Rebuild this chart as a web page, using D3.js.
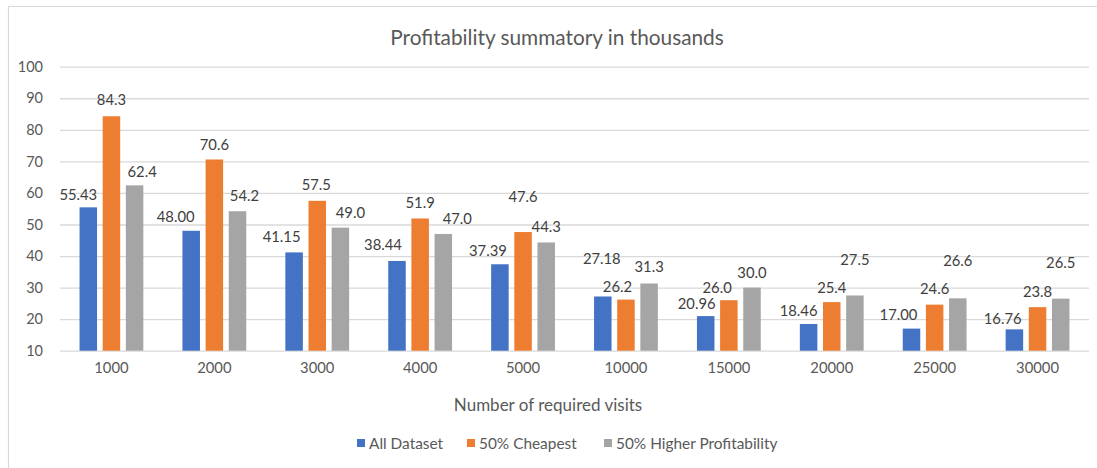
<!DOCTYPE html>
<html>
<head>
<meta charset="utf-8">
<script src="https://cdn.jsdelivr.net/npm/d3@7"></script>
<style>
  html, body { margin: 0; padding: 0; background: #fff; }
  svg { display: block; font-family: Lato, "Open Sans", sans-serif; }
</style>
</head>
<body>
<svg id="chart" width="1097" height="468"></svg>
<script>
// ---- data ----
const categories = ["1000", "2000", "3000", "4000", "5000", "10000", "15000", "20000", "25000", "30000"];
const seriesNames = ["All Dataset", "50% Cheapest", "50% Higher Profitability"];
const allDataset = [55.43, 48.00, 41.15, 38.44, 37.39, 27.18, 20.96, 18.46, 17.00, 16.76];
const cheapest = [84.3, 70.6, 57.5, 51.9, 47.6, 26.2, 26.0, 25.4, 24.6, 23.8];
const higherProfit = [62.4, 54.2, 49.0, 47.0, 44.3, 31.3, 30.0, 27.5, 26.6, 26.5];
const labelDecimals = [2, 1, 1];
const yTicks = [10, 20, 30, 40, 50, 60, 70, 80, 90, 100];

// label placement (pixel offsets of each data label relative to its bar top centre)
const labelDx = [
  [-10, -15.5, -12.5, -14, -12, -1, -9, -10, -13, -11.7],
  [0, 0, -1, 0, 0, -8.5, -11.7, 0, 0, 0],
  [7.5, 7, 10, 14, 0, 0, 0, 0, 0, 0]
];
const labelRise = [
  [13.7, 15, 16.6, 16.7, 14.7, 38, 13.4, 14, 14.3, 11],
  [17, 15.4, 16.7, 16.6, 36.3, 14, 13.3, 15.6, 16.4, 16.3],
  [14, 16.7, 16, 16, 16, 17, 16, 36.3, 38, 36.6]
];

const colors = ["#4472C4", "#ED7D31", "#A5A5A5"];
const textColor = "#595959";
const gridColor = "#D9D9D9";

const seriesValues = [allDataset, cheapest, higherProfit];

const svg = d3.select("#chart");
const W = 1097, H = 468;
const plot = { left: 60, right: 1089, top: 66.7, bottom: 350.7 };

// frame
svg.append("line").attr("x1", 8).attr("x2", W).attr("y1", 6.5).attr("y2", 6.5)
  .attr("stroke", gridColor).attr("stroke-width", 1.2);
svg.append("line").attr("x1", 8.5).attr("x2", 8.5).attr("y1", 6).attr("y2", H)
  .attr("stroke", gridColor).attr("stroke-width", 1.2);

const x0 = d3.scaleBand().domain(categories).range([plot.left, plot.right])
  .paddingInner(0.38).paddingOuter(0.19);
const x1 = d3.scaleBand().domain(d3.range(seriesNames.length)).range([0, x0.bandwidth()])
  .paddingInner(0.244).paddingOuter(0);
const y = d3.scaleLinear().domain([10, 100]).range([plot.bottom, plot.top]);

// gridlines + y tick labels
const yAxis = d3.axisLeft(y).tickValues(yTicks).tickSize(-(plot.right - plot.left)).tickPadding(17);
const gy = svg.append("g").attr("transform", `translate(${plot.left},0)`).call(yAxis);
gy.select(".domain").remove();
gy.selectAll(".tick line").attr("stroke", gridColor).attr("stroke-width", 1.3);
gy.selectAll(".tick text").attr("fill", textColor).style("font-size", "14.5px")
  .style("font-family", "Lato, sans-serif");

// x axis labels
const xAxis = d3.axisBottom(x0).tickSize(0).tickPadding(12);
const gx = svg.append("g").attr("transform", `translate(0,${plot.bottom})`).call(xAxis);
gx.select(".domain").remove();
gx.selectAll(".tick text").attr("fill", textColor).style("font-size", "14.8px")
  .style("font-family", "Lato, sans-serif");

// bars
const rows = [];
categories.forEach((c, i) => {
  seriesValues.forEach((vals, s) => rows.push({ cat: c, i, s, v: vals[i] }));
});

svg.append("g").selectAll("rect").data(rows).join("rect")
  .attr("x", d => x0(d.cat) + x1(d.s))
  .attr("y", d => y(d.v))
  .attr("width", x1.bandwidth())
  .attr("height", d => y(10) - y(d.v))
  .attr("fill", d => colors[d.s]);

// data labels
svg.append("g").selectAll("text").data(rows).join("text")
  .attr("x", d => x0(d.cat) + x1(d.s) + x1.bandwidth() / 2 + labelDx[d.s][d.i])
  .attr("y", d => y(d.v) - labelRise[d.s][d.i])
  .attr("text-anchor", "middle")
  .attr("dominant-baseline", "central")
  .attr("fill", "#404040")
  .style("font-size", "14.8px")
  .text(d => d.v.toFixed(labelDecimals[d.s]));

// title
svg.append("text").attr("x", 557).attr("y", 36.5)
  .attr("text-anchor", "middle").attr("dominant-baseline", "central")
  .attr("fill", textColor).style("font-size", "20.8px")
  .text("Profitability summatory in thousands");

// axis title
svg.append("text").attr("x", 548).attr("y", 404)
  .attr("text-anchor", "middle").attr("dominant-baseline", "central")
  .attr("fill", textColor).style("font-size", "17px")
  .text("Number of required visits");

// legend
const legendX = [357, 467, 604];
const lg = svg.append("g").selectAll("g").data(seriesNames).join("g")
  .attr("transform", (d, i) => `translate(${legendX[i]},443)`);
lg.append("rect").attr("x", 0).attr("y", -4).attr("width", 8).attr("height", 8)
  .attr("fill", (d, i) => colors[i]);
lg.append("text").attr("x", 12).attr("y", 0).attr("dominant-baseline", "central")
  .attr("fill", textColor).style("font-size", "15.4px").text(d => d);
</script>
</body>
</html>
